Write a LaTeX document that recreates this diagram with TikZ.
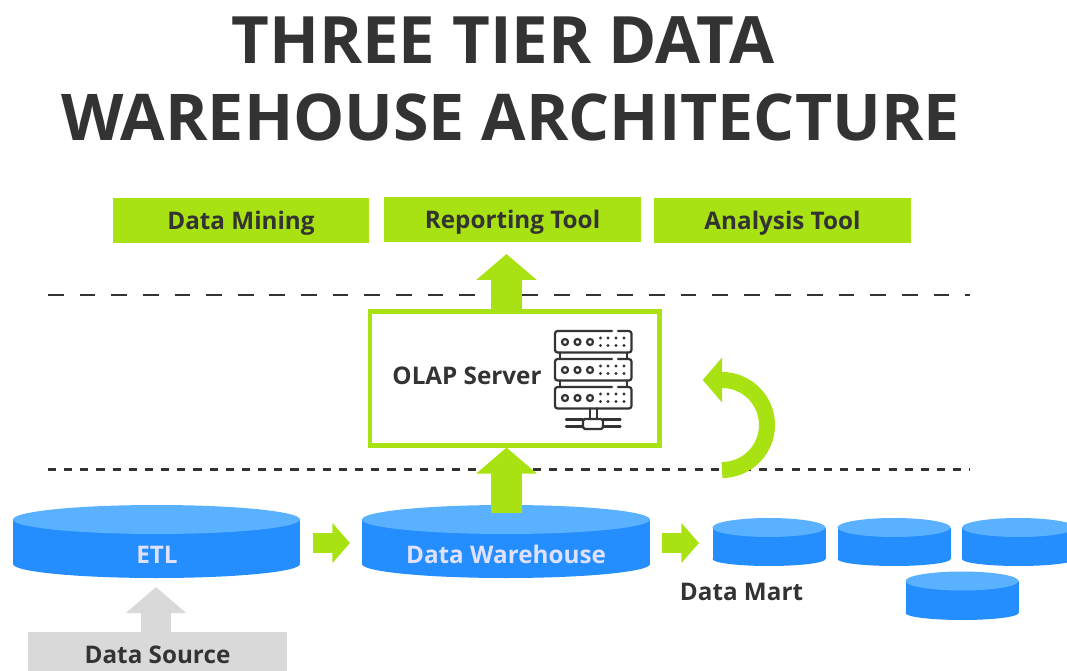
\documentclass[tikz,border=0pt]{standalone}
\usepackage{fontspec}
\setmainfont{Open Sans}
\usetikzlibrary{arrows.meta}
\definecolor{tiergreen}{HTML}{A9E212}
\definecolor{basegray}{HTML}{D9D9D9}
\definecolor{dbside}{HTML}{248EFF}
\definecolor{dbtop}{HTML}{5AB1FF}
\definecolor{inktext}{HTML}{333333}
\tikzset{
  toolbox/.style={fill=tiergreen,minimum width=5.14cm,minimum height=0.9cm,inner sep=0pt,text=inktext,text height=10pt,text depth=0pt,font=\fontsize{13.8}{16}\selectfont\bfseries},
  label/.style={text=inktext,text height=10pt,text depth=0pt,font=\fontsize{13.8}{16}\selectfont\bfseries,inner sep=0pt},
  dblabel/.style={text=blue!12!white,text height=10pt,text depth=0pt,font=\fontsize{13.8}{16}\selectfont\bfseries,inner sep=0pt},
  heading/.style={text=inktext,anchor=base,inner sep=0pt,font=\fontsize{36.7}{40}\selectfont\bfseries},
  bigarrow/.style={draw=tiergreen,line width=17.4pt,-{Triangle[length=14.8pt,width=33.6pt]}},
  smallarrow/.style={draw=tiergreen,line width=11.4pt,-{Triangle[length=10pt,width=22.2pt]}},
  icon/.style={draw=inktext,line width=1.25pt,line cap=round}
}
\begin{document}
\begin{tikzpicture}[x=0.02cm,y=-0.02cm]
\clip (0,0) rectangle (1067,671);
\node [heading, font=\fontsize{37.2}{40}\selectfont\bfseries] (title1) at (503,64) {THREE TIER DATA};
\node [heading] (title2) at (510.5,141) {WAREHOUSE ARCHITECTURE};
\node [toolbox] (mining) at (241,220.5) {Data Mining};
\node [toolbox] (reporting) at (512.5,219.5) {Reporting Tool};
\node [toolbox] (analysis) at (782.5,220.5) {Analysis Tool};
% tier lines
\draw [inktext, line width=1.6pt, dash pattern=on 9pt off 9pt] (48,295) -- (970,295);
\draw [inktext, line width=1.3pt, dash pattern=on 4.6pt off 4.6pt] (48,469.5) -- (970,469.5);
% cylinders
\foreach \cx/\ty/\by/\rx/\ry/\bry in {156.5/519.5/564/143.5/14.5/14,506/519.5/564/144/14.5/14,769/527.5/559/56.5/9.5/7,894/527.5/559/56.5/9.5/7,1018.5/527.5/559/56.5/9.5/7,962/581/613/56.5/9.5/7}{
  \fill [dbside] ({\cx-\rx},\ty) rectangle ({\cx+\rx},\by);
  \fill [dbside] (\cx,\by) ellipse ({\rx} and {\bry});
  \fill [dbtop] (\cx,\ty) ellipse ({\rx} and {\ry});
}
\node [dblabel] (etl) at (157,555) {ETL};
\node [dblabel] (warehouse) at (506,555) {Data Warehouse};
\node [label] (mart) at (741.5,591.5) {Data Mart};
% server box
\node [draw=tiergreen, line width=2.3pt, fill=white, minimum width=5.8cm, minimum height=2.68cm, inner sep=0pt] (server) at (514.5,378.5) {};
\node [label] (olap) at (467,376) {OLAP Server};
% server icon
\foreach \uy in {331,359,387}{
  \draw [icon, rounded corners=1.5pt] (555,{\uy+11}) -- (555,\uy) -- (612,\uy) (618,\uy) -- (631.5,\uy) -- (631.5,{\uy+21.5}) -- (555,{\uy+21.5}) -- (555,{\uy+11});
  \foreach \dx in {565,577.5,590}
    \draw [icon] (\dx,{\uy+11}) circle (3);
  \foreach \dx in {600.5,608,616,624}{
    \fill [inktext] (\dx,{\uy+7}) circle (1.6);
    \fill [inktext] (\dx,{\uy+14.5}) circle (1.6);
  }
}
\draw [icon] (560,352.5) -- (560,359) (627,352.5) -- (627,359) (560,380.5) -- (560,387) (627,380.5) -- (627,387);
\draw [icon] (590,408.5) -- (590,419) (597,408.5) -- (597,419);
\draw [icon, rounded corners=1pt] (583,419) rectangle (603,429);
\draw [icon] (566,419.5) -- (583,419.5) (566,426.5) -- (583,426.5) (603,419.5) -- (620.5,419.5) (603,426.5) -- (620.5,426.5);
% data source
\node [toolbox, fill=basegray, minimum width=5.18cm, minimum height=0.92cm] (source) at (157.5,655) {Data Source};
% arrows
\coordinate (tipup) at (506.5,254);
\coordinate (dwup) at (506.5,513);
\coordinate (etltip) at (156,587);
\coordinate (etlout) at (312.5,543);
\coordinate (dwin) at (350,543);
\coordinate (dwout) at (661.5,543);
\coordinate (martin) at (699,543);
\draw [bigarrow] (server.north -| tipup) -- (tipup);
\draw [bigarrow] (dwup) -- (dwup |- server.south);
\draw [bigarrow, draw=basegray] (source.north -| etltip) -- (etltip);
\draw [smallarrow] (etlout) -- (dwin);
\draw [smallarrow] (dwout) -- (martin);
\draw [draw=tiergreen, line width=9.1pt, -{Triangle[length=11pt,width=25pt]}] (722,470) arc (90:-90:45) -- (702.7,380);
\end{tikzpicture}
\end{document}
